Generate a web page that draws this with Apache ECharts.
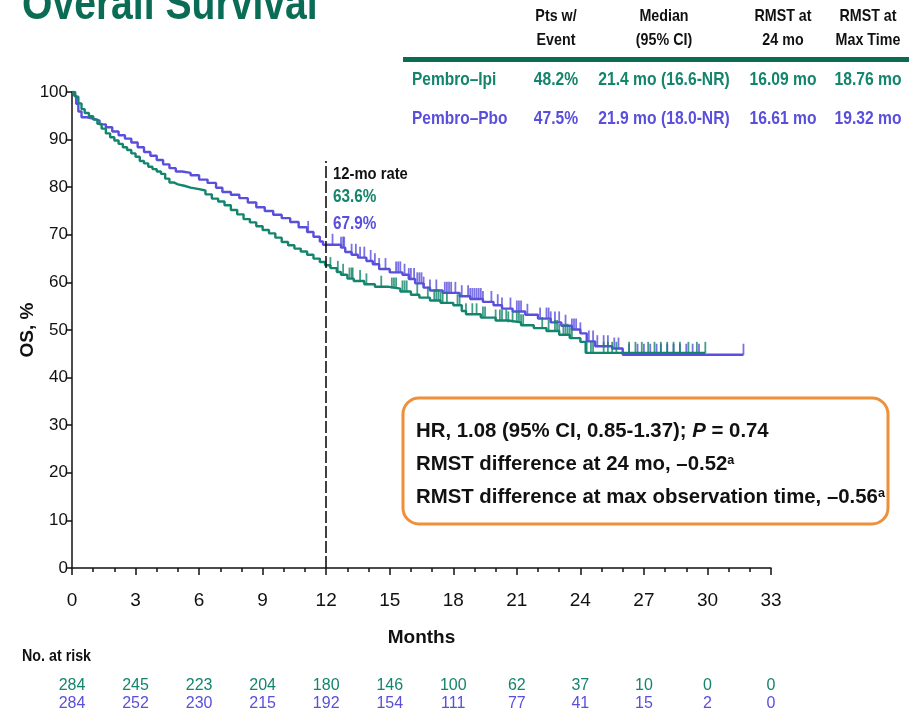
<!DOCTYPE html>
<html>
<head>
<meta charset="utf-8">
<script src="https://cdn.jsdelivr.net/npm/echarts@6/dist/echarts.min.js"></script>
<style>
  html, body { margin: 0; padding: 0; background: #fff; }
  #chart { width: 909px; height: 718px; }
</style>
</head>
<body>
<div id="chart"></div>
<script>
// Kaplan-Meier overall survival: event times (months) and survival (%) after each step
const ipiTimes = [0, 0.15, 0.3, 0.45, 0.6, 0.8, 1.0, 1.2, 1.4, 1.6, 1.8, 2.0, 2.2, 2.4, 2.6, 2.8, 3.0, 3.2, 3.4, 3.6, 3.8, 4.0, 4.2, 4.4, 4.6, 4.8, 5.0, 5.3, 5.6, 6.0, 6.3, 6.6, 6.9, 7.2, 7.5, 7.8, 8.1, 8.4, 8.7, 9.0, 9.3, 9.6, 9.9, 10.2, 10.5, 10.8, 11.1, 11.4, 11.7, 11.95, 12.2, 12.5, 12.7, 13.0, 13.3, 13.8, 14.3, 14.9, 15.5, 16.0, 16.4, 16.9, 17.4, 18.0, 18.4, 18.6, 19.3, 20.0, 20.6, 21.2, 21.8, 22.4, 23.0, 23.5, 24.0, 24.25, 29.9];
const ipiSurv  = [100, 99.0, 97.6, 96.4, 95.6, 94.9, 94.2, 93.3, 92.3, 91.3, 90.5, 89.8, 89.1, 88.4, 87.8, 87.1, 86.4, 85.5, 85.0, 84.3, 83.8, 83.3, 82.8, 81.8, 81.0, 80.6, 80.3, 79.9, 79.6, 79.3, 78.5, 77.6, 77.0, 76.2, 75.2, 74.3, 73.3, 72.6, 71.8, 71.0, 70.3, 69.4, 68.5, 67.8, 67.1, 66.5, 65.8, 65.0, 64.3, 63.6, 63.0, 62.2, 61.6, 60.8, 60.3, 59.6, 59.1, 58.7, 58.1, 57.4, 56.8, 56.2, 55.7, 55.2, 54.0, 53.3, 52.6, 52.0, 51.6, 51.0, 50.4, 49.8, 49.0, 48.3, 47.5, 45.2, 45.2];

const pboTimes = [0, 0.1, 0.2, 0.3, 0.45, 0.7, 1.0, 1.3, 1.6, 1.9, 2.2, 2.5, 2.8, 3.1, 3.4, 3.7, 4.0, 4.3, 4.6, 4.9, 5.2, 5.6, 6.0, 6.4, 6.8, 7.1, 7.5, 7.9, 8.3, 8.7, 9.1, 9.5, 9.9, 10.3, 10.7, 11.1, 11.4, 11.7, 11.85, 12.7, 12.9, 13.2, 13.5, 13.9, 14.2, 14.5, 15.0, 15.6, 15.9, 16.2, 16.6, 16.9, 17.5, 18.3, 18.8, 19.4, 19.9, 20.3, 20.8, 21.4, 22.0, 22.6, 23.1, 23.6, 24.0, 24.3, 24.7, 25.5, 26.0, 31.7];
const pboSurv  = [100, 99.2, 97.5, 95.9, 94.7, 94.4, 94.0, 93.2, 92.6, 91.7, 90.9, 90.2, 89.4, 88.4, 87.4, 86.6, 85.7, 84.8, 84.0, 83.3, 83.0, 82.5, 81.6, 80.9, 79.9, 79.0, 78.4, 77.7, 76.8, 75.8, 75.0, 74.2, 73.5, 72.7, 71.6, 70.6, 69.6, 68.6, 67.9, 67.3, 66.4, 65.8, 65.2, 64.5, 63.8, 62.8, 62.1, 61.6, 60.7, 59.8, 58.9, 58.3, 57.8, 57.1, 56.5, 55.9, 55.2, 54.5, 53.9, 53.2, 52.4, 51.6, 50.9, 50.1, 49.3, 47.6, 46.6, 46.1, 44.8, 44.8];

// Censoring times (months)
const ipiCensor = [12.2, 12.55, 12.8, 13.1, 13.2, 13.25, 13.6, 13.9, 14.6, 15.1, 15.2, 15.3, 15.6, 15.7, 15.8, 16.3, 16.8, 17.1, 17.2, 17.3, 17.4, 17.5, 17.7, 18.2, 18.3, 18.6, 18.9, 19.1, 19.4, 19.5, 20.0, 20.2, 20.3, 20.5, 20.6, 20.8, 21.0, 21.1, 21.2, 21.3, 22.2, 22.5, 22.8, 22.9, 23.0, 23.2, 23.3, 23.4, 23.5, 23.6, 24.3, 24.5, 24.6, 25.1, 25.3, 25.5, 25.7, 26.3, 26.6, 26.9, 27.2, 27.5, 27.8, 28.1, 28.4, 28.7, 29.1, 29.5, 29.9];
const pboCensor = [11.15, 12.3, 12.7, 12.8, 12.85, 13.2, 13.4, 13.6, 13.8, 14.1, 14.3, 14.5, 14.8, 15.3, 15.4, 15.5, 15.7, 15.9, 16.0, 16.15, 16.3, 16.4, 16.5, 16.6, 16.9, 17.2, 17.6, 17.7, 17.8, 17.9, 18.1, 18.4, 18.7, 18.8, 18.9, 19.0, 19.1, 19.2, 19.3, 19.4, 19.8, 20.1, 20.3, 20.7, 21.0, 21.1, 21.2, 21.5, 22.1, 22.4, 22.5, 22.6, 22.8, 23.0, 23.3, 23.6, 23.7, 23.8, 24.0, 24.4, 24.6, 24.8, 25.1, 25.3, 25.6, 25.8, 26.3, 26.7, 27.0, 27.3, 27.6, 27.8, 28.1, 28.4, 28.7, 29.0, 29.3, 29.6, 31.7];

// Number at risk
const riskMonths = [0, 3, 6, 9, 12, 15, 18, 21, 24, 27, 30, 33];
const riskIpi = [284, 245, 223, 204, 180, 146, 100, 62, 37, 10, 0, 0];
const riskPbo = [284, 252, 230, 215, 192, 154, 111, 77, 41, 15, 2, 0];

// Summary table
const tableHeader = [['Pts w/', 'Event'], ['Median', '(95% CI)'], ['RMST at', '24 mo'], ['RMST at', 'Max Time']];
const ipiRow = ['Pembro\u2013Ipi', '48.2%', '21.4 mo (16.6-NR)', '16.09 mo', '18.76 mo'];
const pboRow = ['Pembro\u2013Pbo', '47.5%', '21.9 mo (18.0-NR)', '16.61 mo', '19.32 mo'];

// 12-month landmark
const landmarkMonth = 12;
const landmarkTop = 85.5;
const rate12Ipi = '63.6%';
const rate12Pbo = '67.9%';

const GREEN = '#13856c';
const PURPLE = '#5a4fdc';
const TEAL_DARK = '#0b6c56';
const ORANGE = '#ef8f3a';
const FONT = '"Liberation Sans", Arial, sans-serif';

function pairs(times, surv) {
  return times.map((t, i) => [t, surv[i]]);
}
function survivalAt(times, surv, t) {
  let s = surv[0];
  for (let i = 0; i < times.length; i++) {
    if (times[i] <= t) s = surv[i]; else break;
  }
  return s;
}
function censorPoints(censor, times, surv) {
  return censor.map(t => [t, survivalAt(times, surv, t)]);
}

// Condensed-looking text: regular glyphs squeezed horizontally
function label(x, y, text, size, color, align, sx, extra) {
  return Object.assign({
    type: 'text', x: x, y: y, scaleX: sx || 0.86, z: 11,
    style: { text: text, font: 'bold ' + size + 'px ' + FONT, fill: color, textAlign: align || 'left', textVerticalAlign: 'middle' }
  }, extra || {});
}

const chart = echarts.init(document.getElementById('chart'), null, { renderer: 'canvas' });

const colX = [556, 664, 783, 868];
const graphic = [];

// Title
graphic.push({ type: 'text', x: 22, y: -17, scaleX: 0.85, style: { text: 'Overall Survival', font: 'bold 46px ' + FONT, fill: TEAL_DARK } });

// Table header
tableHeader.forEach((lines, i) => {
  graphic.push(label(colX[i], 16, lines[0], 17, '#111', 'center', 0.84));
  graphic.push(label(colX[i], 40, lines[1], 17, '#111', 'center', 0.84));
});
graphic.push({ type: 'rect', shape: { x: 403, y: 57, width: 506, height: 5 }, style: { fill: TEAL_DARK } });

[[ipiRow, GREEN, 80], [pboRow, PURPLE, 119]].forEach(([row, color, y]) => {
  graphic.push(label(412, y, row[0], 18, color, 'left', 0.86));
  row.slice(1).forEach((cell, i) => {
    graphic.push(label(colX[i], y, cell, 18, color, 'center', 0.87));
  });
});

// 12-mo rate labels
graphic.push(label(333, 174, '12-mo rate', 17, '#111', 'left', 0.87));
graphic.push(label(333, 197, rate12Ipi, 18, GREEN, 'left', 0.85));
graphic.push(label(333, 224, rate12Pbo, 18, PURPLE, 'left', 0.85));

// Hazard ratio box
graphic.push({ type: 'rect', z: 10, shape: { x: 403, y: 398, width: 485, height: 126, r: 16 }, style: { fill: '#fff', stroke: ORANGE, lineWidth: 3 } });
const boxRich = {
  b: { font: 'bold 21px ' + FONT, fill: '#111' },
  i: { font: 'italic bold 21px ' + FONT, fill: '#111' },
  s: { font: 'bold 13px ' + FONT, fill: '#111', verticalAlign: 'top', padding: [0, 0, 8, 0] }
};
const boxLines = [
  '{b|HR, 1.08 (95% CI, 0.85-1.37); }{i|P}{b| = 0.74}',
  '{b|RMST difference at 24 mo, \u20130.52}{s|a}',
  '{b|RMST difference at max observation time, \u20130.56}{s|a}'
];
boxLines.forEach((txt, i) => {
  graphic.push({ type: 'text', z: 11, x: 416, y: 431 + i * 33, scaleX: 0.97, style: { text: txt, rich: boxRich, textVerticalAlign: 'middle' } });
});

// At-risk heading
graphic.push(label(22, 656, 'No. at risk', 17, '#111', 'left', 0.84));

function riskAxis(gridIndex, values, color) {
  return {
    type: 'value', gridIndex: gridIndex, min: 0, max: 33, interval: 3,
    axisLine: { show: false }, axisTick: { show: false }, splitLine: { show: false },
    axisLabel: {
      margin: 7, color: color, fontSize: 16, fontFamily: FONT,
      formatter: v => { const k = riskMonths.indexOf(v); return k >= 0 ? String(values[k]) : ''; }
    }
  };
}

const option = {
  animation: false,
  backgroundColor: '#fff',
  graphic: graphic,
  grid: [
    { left: 72, right: 138, top: 92, bottom: 150 },
    { left: 72, right: 138, top: 670, height: 1 },
    { left: 72, right: 138, top: 688, height: 1 }
  ],
  xAxis: [
    {
      type: 'value', gridIndex: 0, min: 0, max: 33, interval: 3,
      name: 'Months', nameLocation: 'middle', nameGap: 60, nameMoveOverlap: false,
      nameTextStyle: { fontSize: 19, fontWeight: 'bold', color: '#111', fontFamily: FONT },
      axisLine: { lineStyle: { color: '#111', width: 1.5 } },
      axisTick: { show: true, length: 7, lineStyle: { color: '#111', width: 1.5 } },
      minorTick: { show: true, splitNumber: 3, length: 4, lineStyle: { color: '#111', width: 1.5 } },
      axisLabel: { margin: 23, fontSize: 19, color: '#111', fontFamily: FONT },
      splitLine: { show: false }
    },
    riskAxis(1, riskIpi, GREEN),
    riskAxis(2, riskPbo, PURPLE)
  ],
  yAxis: [
    {
      type: 'value', gridIndex: 0, min: 0, max: 100, interval: 10,
      name: 'OS, %', nameLocation: 'middle', nameGap: 35, nameRotate: 90, nameMoveOverlap: false,
      nameTextStyle: { fontSize: 19, fontWeight: 'bold', color: '#111', fontFamily: FONT },
      axisLine: { show: true, lineStyle: { color: '#111', width: 1.5 } },
      axisTick: { show: true, length: 6, lineStyle: { color: '#111', width: 1.5 } },
      axisLabel: { margin: 4, fontSize: 17, color: '#111', fontFamily: FONT },
      splitLine: { show: false }
    },
    { type: 'value', gridIndex: 1, show: false },
    { type: 'value', gridIndex: 2, show: false }
  ],
  series: [
    {
      name: 'Pembro\u2013Pbo', type: 'line', step: 'end', symbol: 'none',
      data: pairs(pboTimes, pboSurv),
      lineStyle: { color: PURPLE, width: 2.4 }, z: 3
    },
    {
      name: 'Pembro\u2013Pbo censored', type: 'scatter', symbol: 'rect', symbolSize: [1.8, 11], symbolOffset: [0, -5.5],
      data: censorPoints(pboCensor, pboTimes, pboSurv), itemStyle: { color: PURPLE }, z: 3
    },
    {
      name: 'Pembro\u2013Ipi', type: 'line', step: 'end', symbol: 'none',
      data: pairs(ipiTimes, ipiSurv),
      lineStyle: { color: GREEN, width: 2.4 }, z: 4,
      markLine: {
        silent: true, symbol: 'none', label: { show: false },
        lineStyle: { color: '#111', type: [12, 3], width: 1.6 },
        data: [[{ coord: [landmarkMonth, 0] }, { coord: [landmarkMonth, landmarkTop] }]]
      }
    },
    {
      name: 'Pembro\u2013Ipi censored', type: 'scatter', symbol: 'rect', symbolSize: [1.8, 11], symbolOffset: [0, -5.5],
      data: censorPoints(ipiCensor, ipiTimes, ipiSurv), itemStyle: { color: GREEN }, z: 4
    }
  ]
};

chart.setOption(option);
</script>
</body>
</html>
